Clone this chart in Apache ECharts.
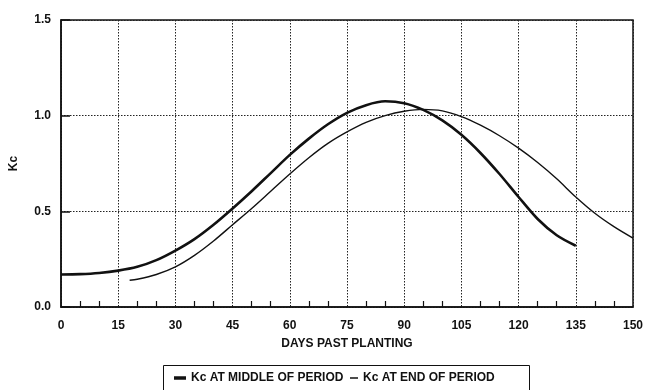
<!DOCTYPE html>
<html>
<head>
<meta charset="utf-8">
<script src="https://cdn.jsdelivr.net/npm/echarts@6/dist/echarts.min.js"></script>
<style>
  html, body { margin: 0; padding: 0; background: #fff; }
  #chart { width: 646px; height: 390px; }
</style>
</head>
<body>
<div id="chart"></div>
<script>
// days past planting and Kc
var midDays = [0, 5, 10, 15, 20, 25, 30, 35, 40, 45, 50, 55, 60, 65, 70, 75, 80, 85, 90, 95, 100, 105, 110, 115, 120, 125, 130, 135];
var midKc   = [0.17, 0.172, 0.178, 0.19, 0.21, 0.245, 0.295, 0.355, 0.43, 0.515, 0.605, 0.70, 0.795, 0.88, 0.955, 1.015, 1.055, 1.075, 1.065, 1.03, 0.975, 0.90, 0.805, 0.695, 0.575, 0.46, 0.375, 0.32];
var endDays = [18, 20, 25, 30, 35, 40, 45, 50, 55, 60, 65, 70, 75, 80, 85, 90, 95, 100, 105, 110, 115, 120, 125, 130, 135, 140, 145, 150];
var endKc   = [0.14, 0.145, 0.17, 0.21, 0.27, 0.345, 0.43, 0.515, 0.605, 0.695, 0.78, 0.855, 0.915, 0.965, 1.0, 1.023, 1.033, 1.025, 0.995, 0.95, 0.895, 0.83, 0.755, 0.67, 0.575, 0.49, 0.42, 0.36];
var seriesNames = ['Kc AT MIDDLE OF PERIOD', 'Kc AT END OF PERIOD'];

function pairs(xs, ys) {
    var out = [];
    for (var i = 0; i < xs.length; i++) out.push([xs[i], ys[i]]);
    return out;
}

var chart = echarts.init(document.getElementById('chart'));
var font = 'Liberation Sans, Arial, Helvetica, sans-serif';
var txt = { fontFamily: font, fontSize: 12, fontWeight: 'bold', color: '#111' };

var option = {
    backgroundColor: '#fff',
    animation: false,
    textStyle: { fontFamily: font, color: '#111' },
    grid: {
        left: 60, right: 9, top: 20, bottom: 83,
        show: true, borderColor: '#111', borderWidth: 1.5
    },
    // legend frame
    graphic: [{
        type: 'rect',
        shape: { x: 163.5, y: 365.5, width: 366, height: 32 },
        style: { fill: 'none', stroke: '#111', lineWidth: 1 }
    }],
    legend: [{
        left: 174, top: 372, padding: 0,
        icon: 'rect', itemWidth: 12, itemHeight: 3.5,
        textStyle: txt,
        data: [seriesNames[0]]
    }, {
        left: 350, top: 372, padding: 0,
        icon: 'rect', itemWidth: 8, itemHeight: 1.5,
        textStyle: txt,
        data: [seriesNames[1]]
    }],
    xAxis: {
        type: 'value',
        min: 0, max: 150, interval: 15,
        name: 'DAYS PAST PLANTING',
        nameLocation: 'middle', nameGap: 31,
        nameTextStyle: txt,
        axisLine: { lineStyle: { color: '#111', width: 1.5 } },
        axisTick: { show: false, inside: true },
        minorTick: { show: true, splitNumber: 3, length: 6, lineStyle: { color: '#111', width: 1.2 } },
        axisLabel: Object.assign({ margin: 13 }, txt),
        splitLine: { show: true, lineStyle: { color: '#222', type: [1.5, 1.5], width: 1 } }
    },
    yAxis: {
        type: 'value',
        min: 0, max: 1.5, interval: 0.5,
        name: 'Kc',
        nameLocation: 'middle', nameGap: 41, nameRotate: 90,
        nameTextStyle: txt,
        axisLine: { show: true, lineStyle: { color: '#111', width: 1.5 } },
        axisTick: { show: true, inside: true, length: 9, lineStyle: { color: '#111', width: 1.5 } },
        axisLabel: Object.assign({ margin: 10, formatter: function (v) { return v.toFixed(1); } }, txt),
        splitLine: { show: true, lineStyle: { color: '#222', type: [1.5, 1.5], width: 1 } }
    },
    series: [{
        name: seriesNames[0],
        type: 'line',
        smooth: 0.3,
        symbol: 'none',
        lineStyle: { color: '#111', width: 2.6 },
        itemStyle: { color: '#111' },
        data: pairs(midDays, midKc)
    }, {
        name: seriesNames[1],
        type: 'line',
        smooth: 0.3,
        symbol: 'none',
        lineStyle: { color: '#111', width: 1.4 },
        itemStyle: { color: '#111' },
        data: pairs(endDays, endKc)
    }]
};

chart.setOption(option);
</script>
</body>
</html>
